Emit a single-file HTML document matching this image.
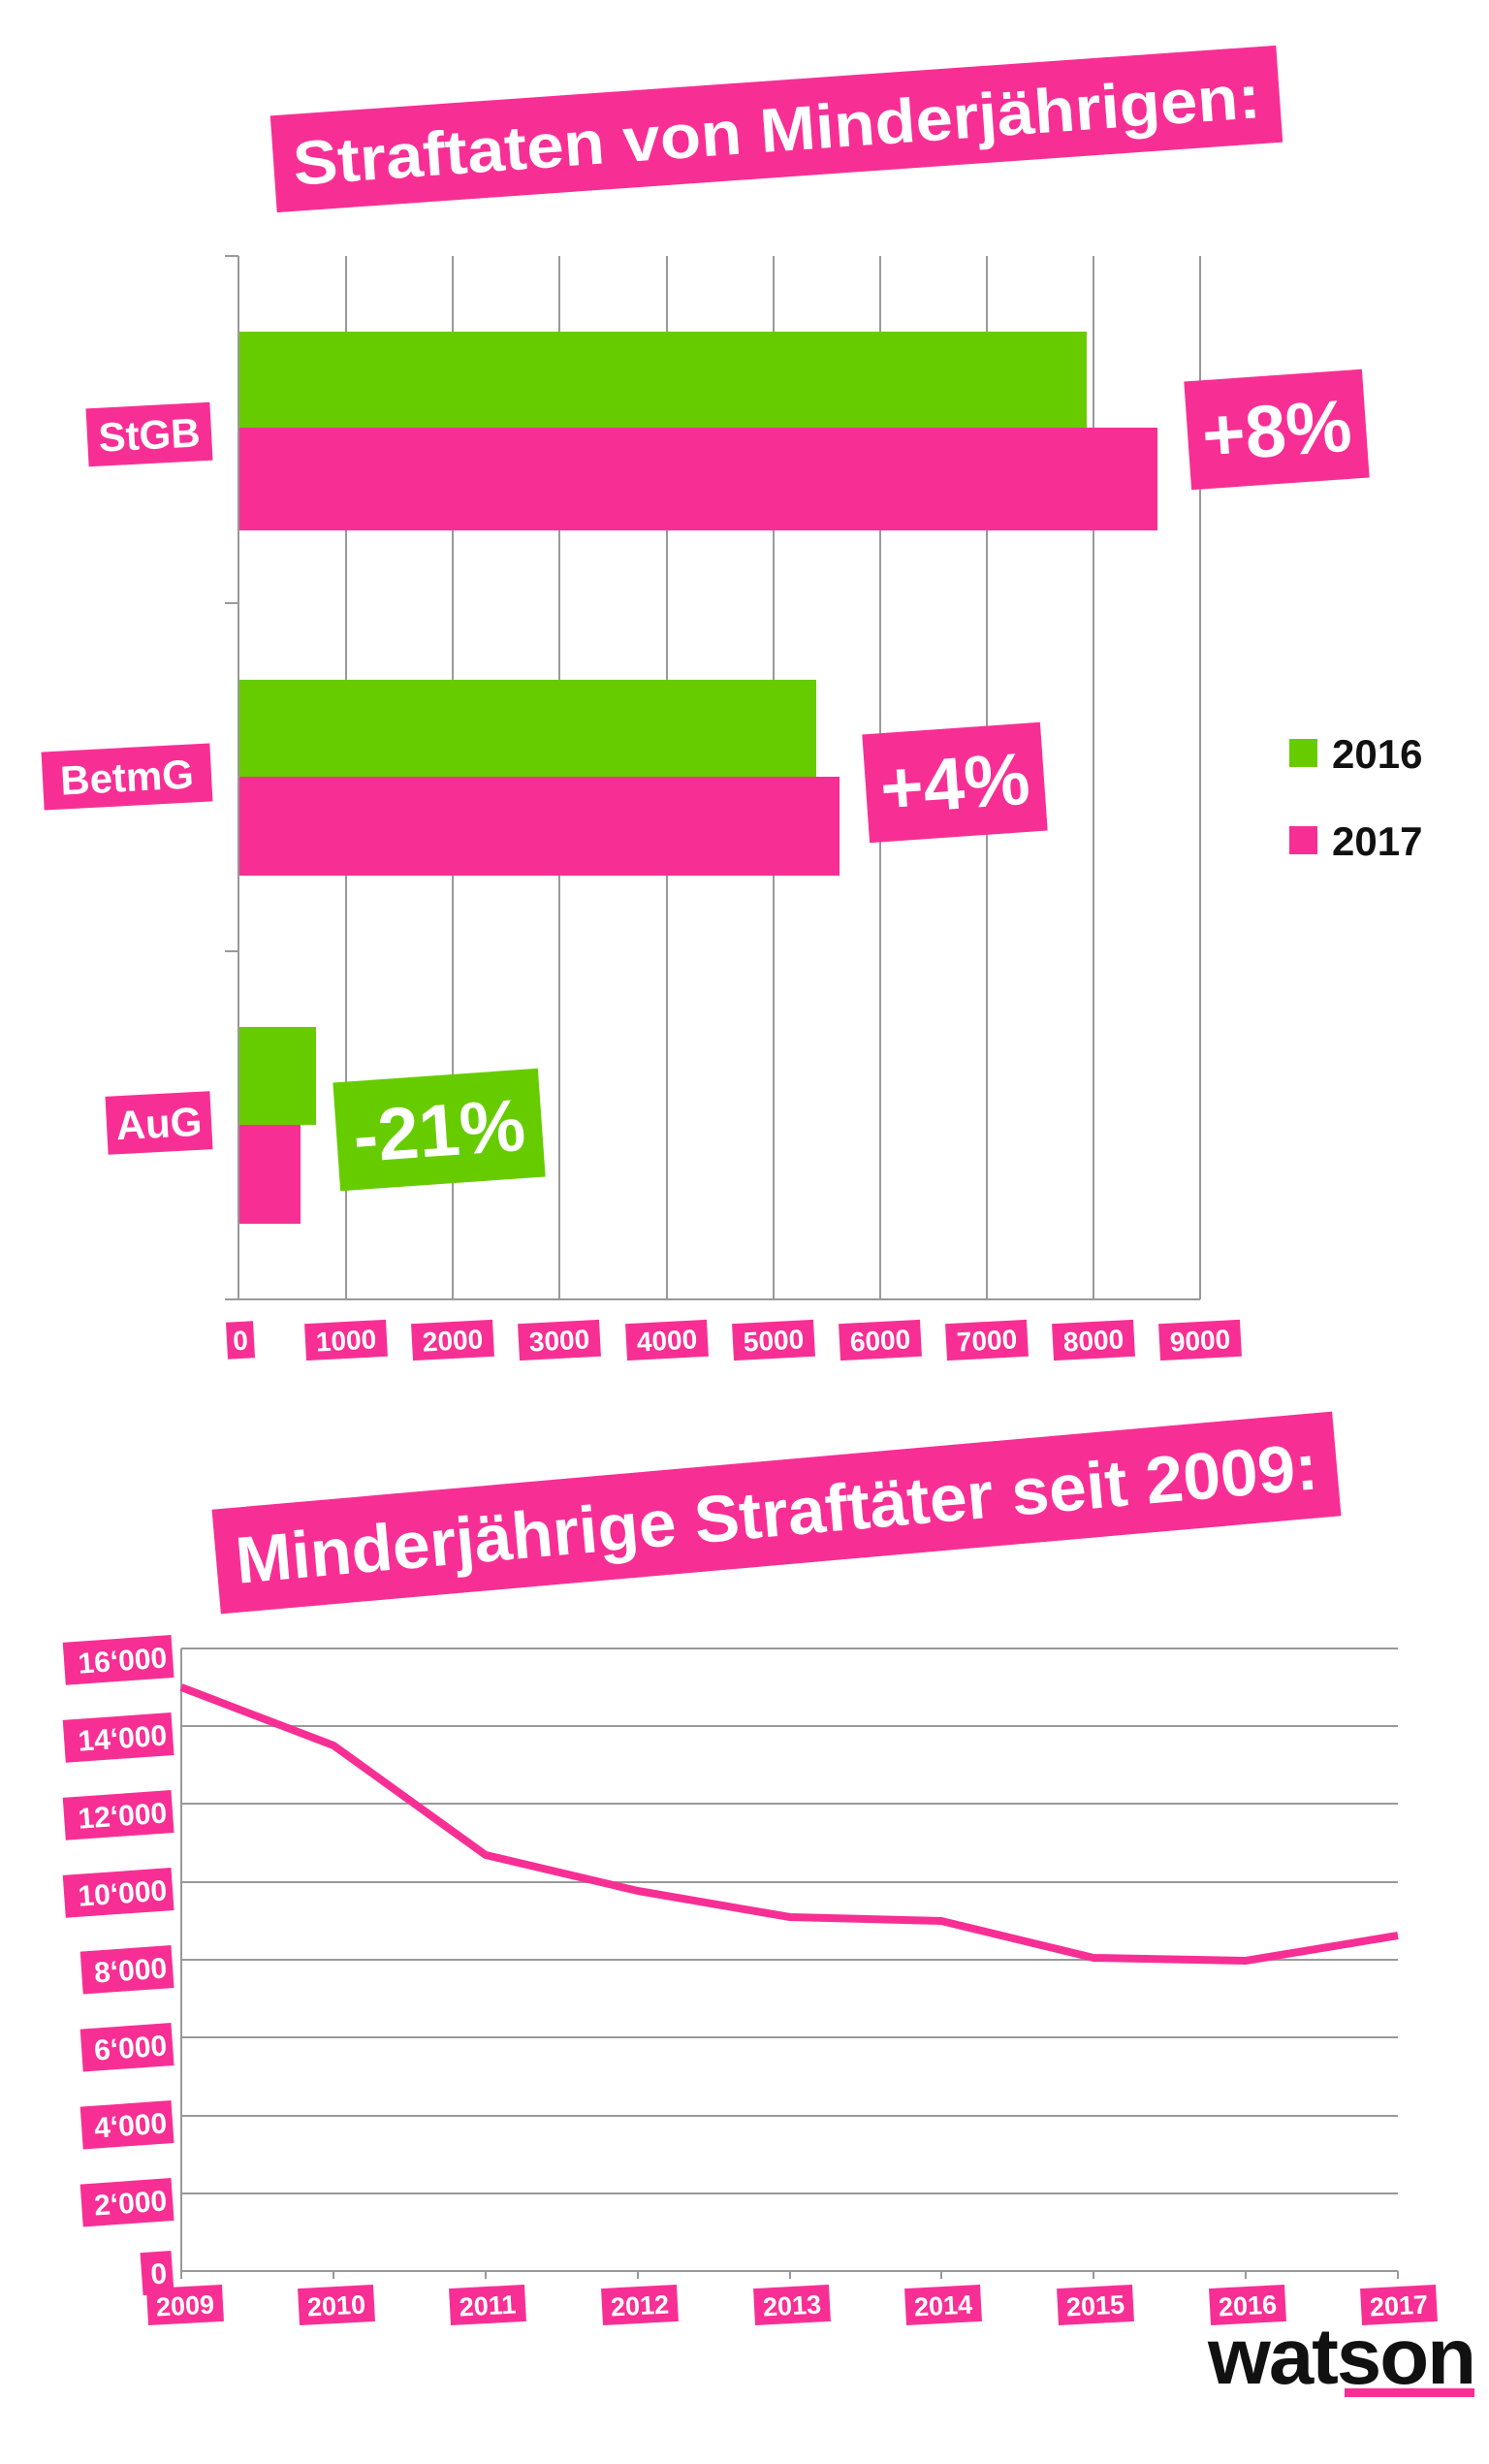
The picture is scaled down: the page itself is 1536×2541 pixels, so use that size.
<!DOCTYPE html>
<html><head><meta charset="utf-8"><style>
html,body{margin:0;padding:0;background:#fff}
svg{display:block}
text{font-family:"Liberation Sans",sans-serif;font-weight:bold}
</style></head><body>
<svg width="1536" height="2541" viewBox="0 0 1536 2541" xmlns="http://www.w3.org/2000/svg">
<!-- Title 1 -->
<g transform="translate(801,133) rotate(-4)">
<rect x="-520" y="-50" width="1040" height="100" fill="#f72f95"/>
<text x="0" y="23" font-size="64" fill="#fff" text-anchor="middle" textLength="1000" lengthAdjust="spacingAndGlyphs">Straftaten von Minderjährigen:</text>
</g>
<!-- grid -->
<g stroke="#999" stroke-width="2">
<line x1="246" y1="264" x2="246" y2="1340"/>
<line x1="357" y1="264" x2="357" y2="1340"/>
<line x1="467" y1="264" x2="467" y2="1340"/>
<line x1="577" y1="264" x2="577" y2="1340"/>
<line x1="688" y1="264" x2="688" y2="1340"/>
<line x1="798" y1="264" x2="798" y2="1340"/>
<line x1="908" y1="264" x2="908" y2="1340"/>
<line x1="1018" y1="264" x2="1018" y2="1340"/>
<line x1="1128" y1="264" x2="1128" y2="1340"/>
<line x1="1238" y1="264" x2="1238" y2="1340"/>
<line x1="232" y1="1340" x2="1238" y2="1340"/>
<line x1="232" y1="264" x2="246" y2="264"/>
<line x1="232" y1="622" x2="246" y2="622"/>
<line x1="232" y1="981" x2="246" y2="981"/>
</g>
<!-- bars -->
<rect x="247" y="342" width="874" height="99" fill="#66cc00"/>
<rect x="247" y="441" width="947" height="106" fill="#f72f95"/>
<rect x="247" y="701" width="595" height="100" fill="#66cc00"/>
<rect x="247" y="801" width="619" height="102" fill="#f72f95"/>
<rect x="247" y="1059" width="79" height="101" fill="#66cc00"/>
<rect x="247" y="1160" width="63" height="102" fill="#f72f95"/>
<!-- category labels -->
<g font-size="42" fill="#fff" text-anchor="middle">
<g transform="translate(154,448) rotate(-3)"><rect x="-64" y="-30" width="128" height="60" fill="#f72f95"/><text y="15">StGB</text></g>
<g transform="translate(131,801) rotate(-3)"><rect x="-87" y="-30" width="174" height="60" fill="#f72f95"/><text y="15">BetmG</text></g>
<g transform="translate(164,1158) rotate(-3)"><rect x="-54" y="-30" width="108" height="60" fill="#f72f95"/><text y="15">AuG</text></g>
</g>
<!-- percent boxes -->
<g font-size="76" fill="#fff" text-anchor="middle">
<g transform="translate(1317,443) rotate(-4)"><rect x="-92" y="-56" width="184" height="112" fill="#f72f95"/><text y="27">+8%</text></g>
<g transform="translate(985,807) rotate(-4)"><rect x="-92" y="-56" width="184" height="112" fill="#f72f95"/><text y="27">+4%</text></g>
<g transform="translate(453,1165) rotate(-4)"><rect x="-106" y="-56" width="212" height="112" fill="#66cc00"/><text y="27">-21%</text></g>
</g>
<!-- legend -->
<rect x="1330" y="762" width="29" height="29" fill="#66cc00"/>
<text x="1374" y="792" font-size="42" fill="#111">2016</text>
<rect x="1330" y="852" width="29" height="29" fill="#f72f95"/>
<text x="1374" y="882" font-size="42" fill="#111">2017</text>
<!-- x tick labels -->
<g font-size="28" fill="#fff" text-anchor="middle">
<g transform="translate(248,1382) rotate(-3)"><rect x="-14" y="-19" width="28" height="38" fill="#f72f95"/><text y="10">0</text></g>
<g transform="translate(357,1382) rotate(-3)"><rect x="-42" y="-19" width="84" height="38" fill="#f72f95"/><text y="10">1000</text></g>
<g transform="translate(467,1382) rotate(-3)"><rect x="-42" y="-19" width="84" height="38" fill="#f72f95"/><text y="10">2000</text></g>
<g transform="translate(577,1382) rotate(-3)"><rect x="-42" y="-19" width="84" height="38" fill="#f72f95"/><text y="10">3000</text></g>
<g transform="translate(688,1382) rotate(-3)"><rect x="-42" y="-19" width="84" height="38" fill="#f72f95"/><text y="10">4000</text></g>
<g transform="translate(798,1382) rotate(-3)"><rect x="-42" y="-19" width="84" height="38" fill="#f72f95"/><text y="10">5000</text></g>
<g transform="translate(908,1382) rotate(-3)"><rect x="-42" y="-19" width="84" height="38" fill="#f72f95"/><text y="10">6000</text></g>
<g transform="translate(1018,1382) rotate(-3)"><rect x="-42" y="-19" width="84" height="38" fill="#f72f95"/><text y="10">7000</text></g>
<g transform="translate(1128,1382) rotate(-3)"><rect x="-42" y="-19" width="84" height="38" fill="#f72f95"/><text y="10">8000</text></g>
<g transform="translate(1238,1382) rotate(-3)"><rect x="-42" y="-19" width="84" height="38" fill="#f72f95"/><text y="10">9000</text></g>
</g>

<!-- Title 2 -->
<g transform="translate(801,1560) rotate(-5)">
<rect x="-580" y="-54" width="1160" height="108" fill="#f72f95"/>
<text x="0" y="24" font-size="68" fill="#fff" text-anchor="middle" textLength="1120" lengthAdjust="spacingAndGlyphs">Minderjährige Straftäter seit 2009:</text>
</g>
<!-- line chart grid -->
<g stroke="#999" stroke-width="2">
<line x1="187" y1="1700" x2="1442" y2="1700"/>
<line x1="187" y1="1780" x2="1442" y2="1780"/>
<line x1="187" y1="1860" x2="1442" y2="1860"/>
<line x1="187" y1="1941" x2="1442" y2="1941"/>
<line x1="187" y1="2021" x2="1442" y2="2021"/>
<line x1="187" y1="2101" x2="1442" y2="2101"/>
<line x1="187" y1="2182" x2="1442" y2="2182"/>
<line x1="187" y1="2262" x2="1442" y2="2262"/>
<line x1="187" y1="2342" x2="1442" y2="2342"/>
<line x1="187" y1="1700" x2="187" y2="2350"/>
<line x1="344" y1="2342" x2="344" y2="2350"/>
<line x1="501" y1="2342" x2="501" y2="2350"/>
<line x1="658" y1="2342" x2="658" y2="2350"/>
<line x1="815" y1="2342" x2="815" y2="2350"/>
<line x1="971" y1="2342" x2="971" y2="2350"/>
<line x1="1128" y1="2342" x2="1128" y2="2350"/>
<line x1="1285" y1="2342" x2="1285" y2="2350"/>
<line x1="1442" y1="2342" x2="1442" y2="2350"/>
</g>
<polyline fill="none" stroke="#f72f95" stroke-width="8" stroke-linejoin="round" points="187,1740 344,1800 501,1913 658,1950 815,1977 971,1981 1128,2019 1285,2022 1442,1996"/>
<!-- y labels -->
<g font-size="30" fill="#fff" text-anchor="end">
<g transform="translate(178,1708) rotate(-4)"><rect x="-112" y="-22" width="112" height="44" fill="#f72f95"/><text x="-6" y="11">16‘000</text></g>
<g transform="translate(178,1788) rotate(-4)"><rect x="-112" y="-22" width="112" height="44" fill="#f72f95"/><text x="-6" y="11">14‘000</text></g>
<g transform="translate(178,1868) rotate(-4)"><rect x="-112" y="-22" width="112" height="44" fill="#f72f95"/><text x="-6" y="11">12‘000</text></g>
<g transform="translate(178,1948) rotate(-4)"><rect x="-112" y="-22" width="112" height="44" fill="#f72f95"/><text x="-6" y="11">10‘000</text></g>
<g transform="translate(178,2028) rotate(-4)"><rect x="-94" y="-22" width="94" height="44" fill="#f72f95"/><text x="-6" y="11">8‘000</text></g>
<g transform="translate(178,2108) rotate(-4)"><rect x="-94" y="-22" width="94" height="44" fill="#f72f95"/><text x="-6" y="11">6‘000</text></g>
<g transform="translate(178,2188) rotate(-4)"><rect x="-94" y="-22" width="94" height="44" fill="#f72f95"/><text x="-6" y="11">4‘000</text></g>
<g transform="translate(178,2268) rotate(-4)"><rect x="-94" y="-22" width="94" height="44" fill="#f72f95"/><text x="-6" y="11">2‘000</text></g>
<g transform="translate(178,2343) rotate(-4)"><rect x="-32" y="-22" width="32" height="44" fill="#f72f95"/><text x="-6" y="11">0</text></g>
</g>
<!-- x labels -->
<g font-size="27" fill="#fff" text-anchor="middle">
<g transform="translate(191,2377) rotate(-3)"><rect x="-39" y="-19" width="78" height="38" fill="#f72f95"/><text y="10">2009</text></g>
<g transform="translate(347,2377) rotate(-3)"><rect x="-39" y="-19" width="78" height="38" fill="#f72f95"/><text y="10">2010</text></g>
<g transform="translate(503,2377) rotate(-3)"><rect x="-39" y="-19" width="78" height="38" fill="#f72f95"/><text y="10">2011</text></g>
<g transform="translate(660,2377) rotate(-3)"><rect x="-39" y="-19" width="78" height="38" fill="#f72f95"/><text y="10">2012</text></g>
<g transform="translate(817,2377) rotate(-3)"><rect x="-39" y="-19" width="78" height="38" fill="#f72f95"/><text y="10">2013</text></g>
<g transform="translate(973,2377) rotate(-3)"><rect x="-39" y="-19" width="78" height="38" fill="#f72f95"/><text y="10">2014</text></g>
<g transform="translate(1130,2377) rotate(-3)"><rect x="-39" y="-19" width="78" height="38" fill="#f72f95"/><text y="10">2015</text></g>
<g transform="translate(1287,2377) rotate(-3)"><rect x="-39" y="-19" width="78" height="38" fill="#f72f95"/><text y="10">2016</text></g>
<g transform="translate(1443,2377) rotate(-3)"><rect x="-39" y="-19" width="78" height="38" fill="#f72f95"/><text y="10">2017</text></g>
</g>
<!-- watson logo -->
<text x="1246" y="2458" font-size="82" fill="#111" textLength="275" lengthAdjust="spacingAndGlyphs" letter-spacing="-2">watson</text>
<rect x="1387" y="2463" width="134" height="9" fill="#f72f95"/>
</svg>
</body></html>
